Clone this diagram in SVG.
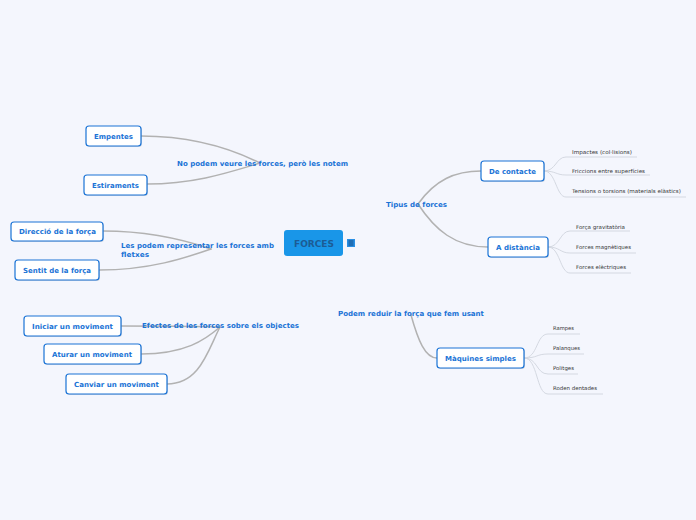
<svg xmlns="http://www.w3.org/2000/svg" width="696" height="520" viewBox="0 0 696 520">
<style>
.bg{fill:#f4f6fd}
.main{font-family:"DejaVu Sans",Verdana,sans-serif;font-weight:bold;font-size:7px;fill:#1a73d6}
.sub{font-family:"DejaVu Sans",Verdana,sans-serif;font-weight:bold;font-size:7px;fill:#1a73d6;text-anchor:start}
.leaf{font-family:"DejaVu Sans",Verdana,sans-serif;font-size:5.3px;fill:#333}
.box{fill:#ffffff;stroke:#1a73d6;stroke-width:1.2}
.shadow{fill:#8a9ab0;opacity:0.35}
.conn{fill:none;stroke:#b2b2b2;stroke-width:1.5;stroke-linecap:round}
.lconn{fill:none;stroke:#d0d5de;stroke-width:0.9}
</style>
<rect class="bg" x="0" y="0" width="696" height="520"/>
<g id="connectors">
<path class="conn" d="M141,136 C190,136 230,148 260,163"/>
<path class="conn" d="M147,184 C195,184 230,172 260,163"/>
<path class="conn" d="M103,231 C150,231 185,240 211,249"/>
<path class="conn" d="M99,270 C150,270 185,258 211,249"/>
<path class="conn" d="M121,326 C160,326 195,326 220,327"/>
<path class="conn" d="M141,354 C185,354 205,340 220,327"/>
<path class="conn" d="M167,384 C200,384 208,350 220,327"/>
<path class="conn" d="M418,204 C435,180 455,171 481,171"/>
<path class="conn" d="M418,204 C435,230 455,247 488,247"/>
<path class="conn" d="M411,315 C418,340 425,358 437,358"/>
<path class="lconn" d="M544,171 C556,171 556,157 566,157 H637"/>
<path class="lconn" d="M544,171 C556,171 556,175 566,175 H650"/>
<path class="lconn" d="M544,171 C556,171 556,197 566,197 H686"/>
<path class="lconn" d="M548,247 C560,247 560,231 570,231 H630"/>
<path class="lconn" d="M548,247 C560,247 560,253 570,253 H636"/>
<path class="lconn" d="M548,247 C560,247 560,273 570,273 H631"/>
<path class="lconn" d="M524,358 C538,358 536,334 548,334 H580"/>
<path class="lconn" d="M524,358 C538,358 536,354 548,354 H584"/>
<path class="lconn" d="M524,358 C538,358 536,374 548,374 H578"/>
<path class="lconn" d="M524,358 C538,358 536,394 548,394 H603"/>
</g>
<g id="center">
<rect x="284" y="230" width="59" height="26" rx="3" fill="#1996e8"/>
<text x="294" y="246.5" font-family="DejaVu Sans,Verdana,sans-serif" font-weight="bold" font-size="8px" fill="#1c5c95" textLength="40" lengthAdjust="spacingAndGlyphs">FORCES</text>
<rect x="347" y="239" width="8" height="8" fill="#2a8fe4"/>
<rect x="348.5" y="240.5" width="5" height="1" fill="#174f86"/>
<rect x="348.5" y="242.5" width="5" height="1" fill="#174f86"/>
<rect x="348.5" y="244.5" width="5" height="1" fill="#174f86"/>
</g>
<g id="t-nopodem"><text class="main" x="177" y="166" textLength="171" lengthAdjust="spacingAndGlyphs">No podem veure les forces, però les notem</text></g>
<g id="t-lespodem"><text class="main" x="121" y="247.5" textLength="153" lengthAdjust="spacingAndGlyphs">Les podem representar les forces amb</text><text class="main" x="121" y="256.5" textLength="28" lengthAdjust="spacingAndGlyphs">fletxes</text></g>
<g id="t-efectes"><text class="main" x="142" y="327.5" textLength="157" lengthAdjust="spacingAndGlyphs">Efectes de les forces sobre els objectes</text></g>
<g id="t-tipus"><text class="main" x="386" y="206.5" textLength="61" lengthAdjust="spacingAndGlyphs">Tipus de forces</text></g>
<g id="t-podem"><text class="main" x="338" y="315.5" textLength="146" lengthAdjust="spacingAndGlyphs">Podem reduir la força que fem usant</text></g>
<g id="n-empentes"><rect class="shadow" x="87" y="127" width="55" height="20" rx="3"/><rect class="box" x="86" y="126" width="55" height="20" rx="3"/><text class="sub" x="94" y="138.5" textLength="39" lengthAdjust="spacingAndGlyphs">Empentes</text></g>
<g id="n-estiraments"><rect class="shadow" x="85" y="176" width="63" height="20" rx="3"/><rect class="box" x="84" y="175" width="63" height="20" rx="3"/><text class="sub" x="92" y="187.5" textLength="47" lengthAdjust="spacingAndGlyphs">Estiraments</text></g>
<g id="n-direccio"><rect class="shadow" x="12" y="223" width="92" height="19" rx="3"/><rect class="box" x="11" y="222" width="92" height="19" rx="3"/><text class="sub" x="19" y="234" textLength="77" lengthAdjust="spacingAndGlyphs">Direcció de la força</text></g>
<g id="n-sentit"><rect class="shadow" x="16" y="261" width="84" height="20" rx="3"/><rect class="box" x="15" y="260" width="84" height="20" rx="3"/><text class="sub" x="23" y="272.5" textLength="68" lengthAdjust="spacingAndGlyphs">Sentit de la força</text></g>
<g id="n-iniciar"><rect class="shadow" x="25" y="317" width="97" height="20" rx="3"/><rect class="box" x="24" y="316" width="97" height="20" rx="3"/><text class="sub" x="32" y="328.5" textLength="81" lengthAdjust="spacingAndGlyphs">Iniciar un moviment</text></g>
<g id="n-aturar"><rect class="shadow" x="45" y="345" width="97" height="20" rx="3"/><rect class="box" x="44" y="344" width="97" height="20" rx="3"/><text class="sub" x="52" y="356.5" textLength="80" lengthAdjust="spacingAndGlyphs">Aturar un moviment</text></g>
<g id="n-canviar"><rect class="shadow" x="67" y="375" width="101" height="20" rx="3"/><rect class="box" x="66" y="374" width="101" height="20" rx="3"/><text class="sub" x="74" y="386.5" textLength="85" lengthAdjust="spacingAndGlyphs">Canviar un moviment</text></g>
<g id="n-contacte"><rect class="shadow" x="482" y="162" width="63" height="20" rx="3"/><rect class="box" x="481" y="161" width="63" height="20" rx="3"/><text class="sub" x="489" y="173.5" textLength="47" lengthAdjust="spacingAndGlyphs">De contacte</text></g>
<g id="n-distancia"><rect class="shadow" x="489" y="238" width="60" height="20" rx="3"/><rect class="box" x="488" y="237" width="60" height="20" rx="3"/><text class="sub" x="496" y="249.5" textLength="44" lengthAdjust="spacingAndGlyphs">A distància</text></g>
<g id="n-maquines"><rect class="shadow" x="438" y="349" width="87" height="20" rx="3"/><rect class="box" x="437" y="348" width="87" height="20" rx="3"/><text class="sub" x="445" y="360.5" textLength="71" lengthAdjust="spacingAndGlyphs">Màquines simples</text></g>
<g id="l-impactes"><text class="leaf" x="572" y="154" textLength="60" lengthAdjust="spacingAndGlyphs">Impactes (col·lisions)</text></g>
<g id="l-friccions"><text class="leaf" x="572" y="173" textLength="73" lengthAdjust="spacingAndGlyphs">Friccions entre superfícies</text></g>
<g id="l-tensions"><text class="leaf" x="572" y="193" textLength="109" lengthAdjust="spacingAndGlyphs">Tensions o torsions (materials elàstics)</text></g>
<g id="l-gravitatoria"><text class="leaf" x="576" y="229" textLength="49" lengthAdjust="spacingAndGlyphs">Força gravitatòria</text></g>
<g id="l-magnetiques"><text class="leaf" x="576" y="249" textLength="55" lengthAdjust="spacingAndGlyphs">Forces magnètiques</text></g>
<g id="l-electriques"><text class="leaf" x="576" y="269" textLength="50" lengthAdjust="spacingAndGlyphs">Forces elèctriques</text></g>
<g id="l-rampes"><text class="leaf" x="553" y="330" textLength="21" lengthAdjust="spacingAndGlyphs">Rampes</text></g>
<g id="l-palanques"><text class="leaf" x="553" y="350" textLength="27" lengthAdjust="spacingAndGlyphs">Palanques</text></g>
<g id="l-politges"><text class="leaf" x="553" y="370" textLength="21" lengthAdjust="spacingAndGlyphs">Politges</text></g>
<g id="l-roden"><text class="leaf" x="553" y="390" textLength="44" lengthAdjust="spacingAndGlyphs">Roden dentades</text></g>
</svg>
